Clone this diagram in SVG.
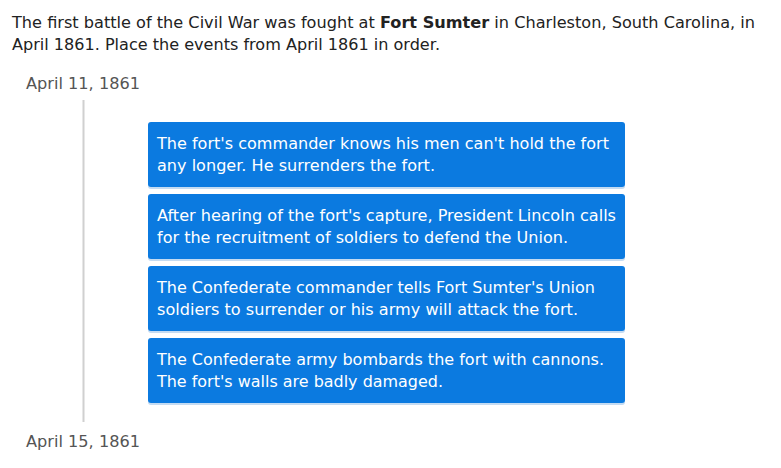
<svg xmlns="http://www.w3.org/2000/svg" width="781" height="468" viewBox="0 0 781 468">
<style>
text{font-family:"DejaVu Sans","Verdana",sans-serif;font-size:15px}
.hd{fill:#222}
.dt{fill:#555}
.bx{fill:#0b7ae0}
.sh{fill:#9cc3ea;opacity:.6}
.bt{fill:#fff}
</style>
<rect width="781" height="468" fill="#fff"/>
<g id="header">
<text class="hd" x="12" y="28" textLength="743" lengthAdjust="spacingAndGlyphs">The first battle of the Civil War was fought at <tspan font-weight="bold">Fort Sumter</tspan> in Charleston, South Carolina, in</text>
<text class="hd" x="12" y="50" textLength="428" lengthAdjust="spacingAndGlyphs">April 1861. Place the events from April 1861 in order.</text>
</g>
<g id="start-date"><text class="dt" x="26" y="89" textLength="114" lengthAdjust="spacingAndGlyphs">April 11, 1861</text></g>
<g id="connectors"><line x1="83.5" y1="100" x2="83.5" y2="422" stroke="#d0d0d0" stroke-width="2"/></g>
<g id="event1">
<rect class="sh" x="148" y="124" width="477" height="65" rx="3"/>
<rect class="bx" x="148" y="122" width="477" height="65" rx="3"/>
<text class="bt" x="157" y="149" textLength="452" lengthAdjust="spacingAndGlyphs">The fort's commander knows his men can't hold the fort</text>
<text class="bt" x="157" y="171" textLength="278" lengthAdjust="spacingAndGlyphs">any longer. He surrenders the fort.</text>
</g>
<g id="event2">
<rect class="sh" x="148" y="196" width="477" height="65" rx="3"/>
<rect class="bx" x="148" y="194" width="477" height="65" rx="3"/>
<text class="bt" x="157" y="221" textLength="459" lengthAdjust="spacingAndGlyphs">After hearing of the fort's capture, President Lincoln calls</text>
<text class="bt" x="157" y="243" textLength="411" lengthAdjust="spacingAndGlyphs">for the recruitment of soldiers to defend the Union.</text>
</g>
<g id="event3">
<rect class="sh" x="148" y="268" width="477" height="65" rx="3"/>
<rect class="bx" x="148" y="266" width="477" height="65" rx="3"/>
<text class="bt" x="157" y="293" textLength="438" lengthAdjust="spacingAndGlyphs">The Confederate commander tells Fort Sumter's Union</text>
<text class="bt" x="157" y="315" textLength="421" lengthAdjust="spacingAndGlyphs">soldiers to surrender or his army will attack the fort.</text>
</g>
<g id="event4">
<rect class="sh" x="148" y="340" width="477" height="65" rx="3"/>
<rect class="bx" x="148" y="338" width="477" height="65" rx="3"/>
<text class="bt" x="157" y="365" textLength="447" lengthAdjust="spacingAndGlyphs">The Confederate army bombards the fort with cannons.</text>
<text class="bt" x="157" y="387" textLength="286" lengthAdjust="spacingAndGlyphs">The fort's walls are badly damaged.</text>
</g>
<g id="end-date"><text class="dt" x="26" y="447" textLength="114" lengthAdjust="spacingAndGlyphs">April 15, 1861</text></g>
</svg>
